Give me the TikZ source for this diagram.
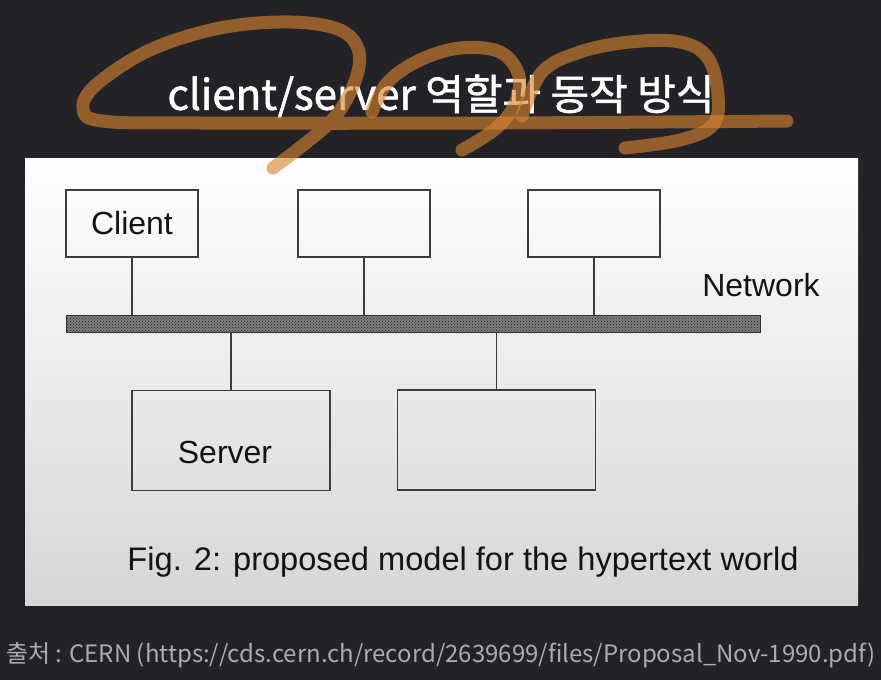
\documentclass[tikz,border=0pt]{standalone}
\usepackage{fontspec}
\setmainfont{Liberation Sans}
\newfontfamily\kofont{Noto Sans CJK KR}
\newfontfamily\kotitle[FakeBold=1.4]{Noto Sans CJK KR}
\usetikzlibrary{patterns}
\definecolor{slidebg}{RGB}{35,34,38}
\definecolor{penink}{RGB}{60,60,60}
\definecolor{marker}{RGB}{214,132,48}
\definecolor{footgray}{RGB}{172,172,172}
\begin{document}
\begin{tikzpicture}[x=1pt, y=-1pt,
  hostbox/.style={draw=penink, line width=1.3pt, minimum width=132pt, minimum height=67pt, inner sep=0pt},
  srvbox/.style={draw=penink, line width=1.3pt, minimum width=198pt, minimum height=100pt, inner sep=0pt},
  drop/.style={draw=penink, line width=1.1pt},
  figtext/.style={font=\fontsize{32}{36}\selectfont, text=black!92},
  scribble/.style={draw=marker, line width=13pt, line cap=round, line join=round, opacity=0.62}]
  \useasboundingbox (0,0) rectangle (881,680);
  \fill[slidebg] (0,0) rectangle (881,680);
  % white sheet with the figure
  \shade[top color=white, middle color=black!3, bottom color=black!16] (25,158) rectangle (858,605);
  \node[hostbox, figtext] (client) at (132,223.5) {Client};
  \node[hostbox] (host2) at (364,223.5) {};
  \node[hostbox] (host3) at (594,223.5) {};
  \fill[black!50] (66,315) rectangle (760,332);
  \node[draw=black!80, line width=0.8pt, pattern=crosshatch dots, pattern color=black!90,
        minimum width=694pt, minimum height=17pt, inner sep=0pt] (net) at (413,323.5) {};
  \node[figtext] (netlabel) at (761,285) {Network};
  \node[srvbox] (server) at (231,440.5) {};
  \node[figtext] (srvlabel) at (225,452) {Server};
  \node[srvbox] (server2) at (496.5,440) {};
  \draw[drop] (client.south) -- (client.south |- net.north);
  \draw[drop] (host2.south) -- (host2.south |- net.north);
  \draw[drop] (host3.south) -- (host3.south |- net.north);
  \draw[drop] (server.north) -- (server.north |- net.south);
  \draw[drop] (server2.north) -- (server2.north |- net.south);
  \node[figtext, font=\fontsize{32.6}{36}\selectfont] (caption) at (463,562) {Fig. 2: proposed model for the hypertext world};
  % slide title and source line
  \node[text=white, font=\kotitle\fontsize{42}{46}\selectfont] (title) at (441,96) {client/server 역할과 동작 방식};
  \node[text=footgray, font=\kofont\fontsize{24}{27}\selectfont] (source) at (441,655)
    {출처 : CERN (https://cds.cern.ch/record/2639699/files/Proposal\_Nov-1990.pdf)};
  % marker scribble over the title
  \draw[scribble] plot[smooth, tension=0.6] coordinates {(273,168) (302,146) (334,118) (354,84) (359,52) (340,30) (290,22) (220,28) (150,50) (97,84) (83,108) (102,121) (200,123) (500,123) (787,121)};
  \draw[scribble] plot[smooth, tension=0.6] coordinates {(372,112) (388,82) (420,60) (460,48) (500,52) (519,76) (514,106) (494,130) (462,150)};
  \draw[scribble] plot[smooth, tension=0.6] coordinates {(522,116) (542,72) (580,52) (630,42) (680,42) (708,58) (718,95) (713,125) (680,140) (625,148)};
\end{tikzpicture}
\end{document}
